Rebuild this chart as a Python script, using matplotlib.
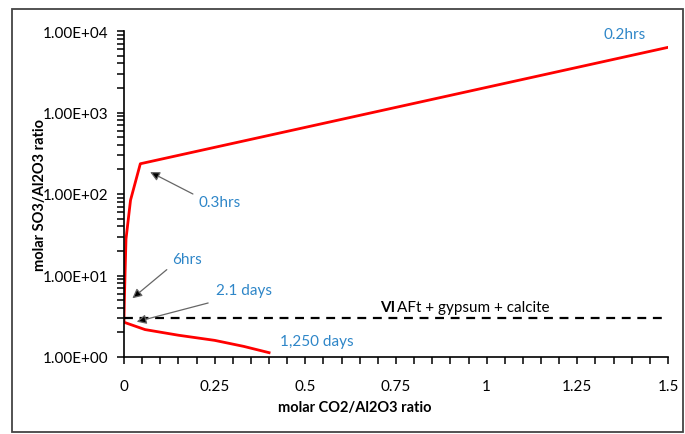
import numpy as np
import matplotlib.pyplot as plt
from matplotlib.ticker import MultipleLocator, LogLocator, FuncFormatter
from matplotlib.patches import Rectangle

# red path, from 0.2hrs (top right) down to 1,250 days
co2 = [1.5, 0.045, 0.018, 0.0055, 0.003, 0.001, 0.0, 0.0, 0.058, 0.15, 0.25, 0.33, 0.40]
so3 = [6300, 235, 84, 28, 11, 5.0, 3.05, 2.67, 2.17, 1.85, 1.6, 1.35, 1.13]

# phase boundary VI
vi_level = 3.0
vi_x = [0, 1.5]

xticks = [0, 0.25, 0.5, 0.75, 1, 1.25, 1.5]
xticklabels = ['0', '0.25', '0.5', '0.75', '1', '1.25', '1.5']

blue = '#2E86C8'
plt.rcParams['font.family'] = ['Lato', 'DejaVu Sans']
plt.rcParams['font.size'] = 10.5

fig = plt.figure(figsize=(6.85, 4.35), dpi=100)
ax = fig.add_axes([124/685, 1-358/435, (668-124)/685, (358-32)/435])

# outer chart border
fig.patches.append(Rectangle((12/685, 2/435), 671/685, 423/435, transform=fig.transFigure,
                             fill=False, ec='#444444', lw=1.3))

ax.plot(co2, so3, color='#FF0000', lw=2)
ax.plot(vi_x, [vi_level, vi_level], color='k', lw=1.6, ls=(0, (4, 3)))

ax.set_yscale('log')
ax.set_xlim(0, 1.5)
ax.set_ylim(1, 1e4)

ax.spines['top'].set_visible(False)
ax.spines['right'].set_visible(False)
ax.spines['left'].set_linewidth(1.2)
ax.spines['bottom'].set_linewidth(1.2)

ax.set_xticks(xticks)
ax.set_xticklabels(xticklabels)
ax.xaxis.set_minor_locator(MultipleLocator(0.05))
ax.yaxis.set_major_locator(LogLocator(base=10))
ax.yaxis.set_minor_locator(LogLocator(base=10, subs=np.arange(2, 10)))
ax.yaxis.set_major_formatter(FuncFormatter(lambda v, p: '%.2fE+%02d' % (1.0, int(round(np.log10(v))))))
ax.yaxis.set_minor_formatter(FuncFormatter(lambda v, p: ''))
ax.tick_params(which='both', direction='out', length=5, width=1.1, labelsize=11)
ax.tick_params(axis='x', pad=11)
ax.tick_params(axis='y', pad=6)

fig.text(40/685, 1-195/435, 'molar SO3/Al2O3 ratio', rotation=90, ha='center', va='center',
         fontweight='bold', fontsize=10.5)
fig.text(355/685, 1-408/435, 'molar CO2/Al2O3 ratio', ha='center', va='center',
         fontweight='bold', fontsize=10.5)

# annotations
arr = dict(arrowstyle='-|>', ec='#666666', fc='k', lw=0.9, mutation_scale=14,
           shrinkA=0, shrinkB=0)
ax.text(1.38, 9200, '0.2hrs', color=blue, ha='center', va='center', fontsize=11)
ax.annotate('', xy=(0.072, 186), xytext=(0.19, 100), arrowprops=arr)
ax.text(0.265, 80, '0.3hrs', color=blue, ha='center', va='center', fontsize=11)
ax.annotate('', xy=(0.023, 5.25), xytext=(0.118, 11.8), arrowprops=arr)
ax.text(0.174, 15.9, '6hrs', color=blue, ha='center', va='center', fontsize=11)
ax.annotate('', xy=(0.035, 2.71), xytext=(0.232, 4.6), arrowprops=arr)
ax.text(0.33, 6.6, '2.1 days', color=blue, ha='center', va='center', fontsize=11)
ax.text(0.43, 1.58, '1,250 days', color=blue, ha='left', va='center', fontsize=11)
ax.text(0.706, 4.1, 'VI', ha='left', va='center', fontweight='bold', fontsize=11)
ax.text(0.752, 4.1, 'AFt + gypsum + calcite', ha='left', va='center', fontsize=11)

fig.savefig('out.png', dpi=100)
